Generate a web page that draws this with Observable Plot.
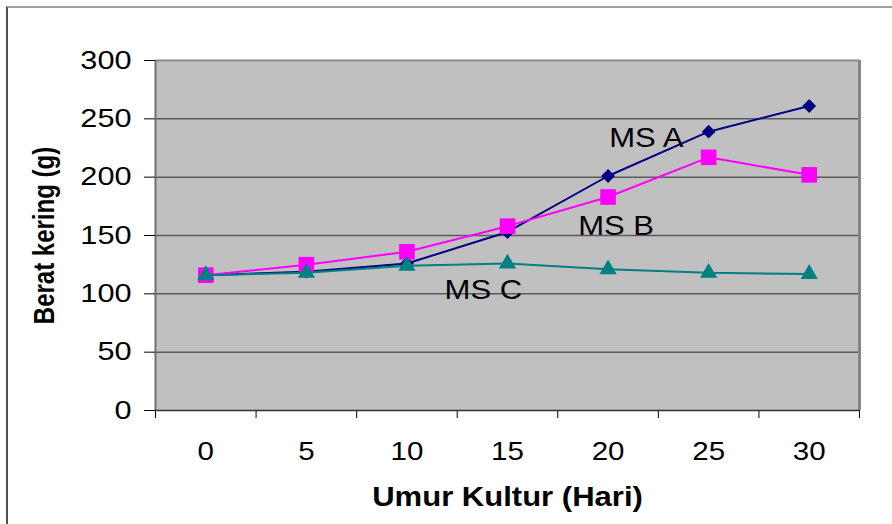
<!DOCTYPE html>
<html>
<head>
<meta charset="utf-8">
<script src="https://cdn.jsdelivr.net/npm/d3@7"></script>
<script src="https://cdn.jsdelivr.net/npm/@observablehq/plot@0.6"></script>
<style>
  html, body { margin: 0; padding: 0; background: #fff; }
  #wrap { position: relative; width: 892px; height: 524px; overflow: hidden; }
  #frame { position: absolute; left: 6px; top: 6px; width: 900px; height: 530px;
           border-top: 2px solid #a0a0a0; border-left: 2px solid #505050; box-sizing: border-box; }
  #chart { position: absolute; left: 0; top: 0; }
</style>
</head>
<body>
<div id="wrap"><div id="frame"></div><div id="chart"></div></div>
<script>
// Data
const days = [0, 5, 10, 15, 20, 25, 30];
const msA = [116, 119, 126, 153, 201, 239, 261];
const msB = [116, 125, 136, 158, 183, 217, 202];
const msC = [116, 118, 124, 126, 121, 118, 117];
const seriesNames = ["MS A", "MS B", "MS C"];
const labelDay = [21.9, 20.4, 13.8];
const labelValue = [233, 158, 103];
const yTicks = [0, 50, 100, 150, 200, 250, 300];
const yTitle = "Berat kering (g)";
const xTitle = "Umur Kultur (Hari)";

const rows = days.map((d, i) => ({day: d, A: msA[i], B: msB[i], C: msC[i]}));
const half = (days[1] - days[0]) / 2;
const xBounds = days.map(d => d - half).concat([days[days.length - 1] + half]);
const labels = seriesNames.map((n, i) => ({name: n, day: labelDay[i], v: labelValue[i]}));

const chart = Plot.plot({
  width: 892,
  height: 524,
  marginLeft: 155,
  marginRight: 33,
  marginTop: 60,
  marginBottom: 114,
  x: {domain: [xBounds[0], xBounds[xBounds.length - 1]]},
  y: {domain: [0, 300]},
  style: {fontFamily: "'Liberation Sans', Arial, sans-serif", background: "transparent", color: "#000"},
  marks: [
    Plot.frame({fill: "#c0c0c0", stroke: null}),
    Plot.gridY(yTicks.slice(1, -1), {stroke: "#5a5a5a", strokeOpacity: 1, strokeWidth: 1.5}),
    Plot.ruleY([300], {stroke: "#8a8a8a", strokeWidth: 2}),
    Plot.ruleX([xBounds[0]], {stroke: "#707070", strokeWidth: 2}),
    Plot.ruleX([xBounds[xBounds.length - 1]], {stroke: "#858585", strokeWidth: 3}),
    Plot.axisY({ticks: yTicks, tickSize: 11, tickPadding: 13, fontSize: 26, label: null, tickFormat: d => String(d)}),
    Plot.axisX({ticks: xBounds, tickSize: 8, tickFormat: () => "", label: null}),
    Plot.axisX({ticks: days, tickSize: 0, tickPadding: 32, fontSize: 25, label: null, tickFormat: d => String(d)}),
    Plot.ruleY([0], {stroke: "#303030", strokeWidth: 1.5}),
    Plot.line(rows, {x: "day", y: "A", stroke: "#000080", strokeWidth: 2}),
    Plot.dot(rows, {x: "day", y: "A", symbol: "diamond2", r: 6.2, fill: "#000080", stroke: null}),
    Plot.line(rows, {x: "day", y: "B", stroke: "#ff00ff", strokeWidth: 2}),
    Plot.dot(rows, {x: "day", y: "B", symbol: "square", r: 8.8, fill: "#ff00ff", stroke: null}),
    Plot.line(rows, {x: "day", y: "C", stroke: "#008080", strokeWidth: 2}),
    Plot.dot(rows, {x: "day", y: "C", symbol: "triangle", r: 6.4, fill: "#008080", stroke: null}),
    Plot.text(labels, {x: "day", y: "v", text: "name", fontSize: 27, fill: "#000", textAnchor: "middle", lineAnchor: "middle"}),
    Plot.text([xTitle], {frameAnchor: "bottom", dy: 87, fontSize: 27, fontWeight: "bold", fill: "#000", lineAnchor: "middle"}),
    Plot.text([yTitle], {frameAnchor: "left", dx: -111, rotate: -90, fontSize: 24, fontWeight: "bold", fill: "#000", textAnchor: "middle", lineAnchor: "middle"})
  ]
});

document.getElementById("chart").appendChild(chart);

// Horizontal stretch of the text around its anchor (the reference image is stretched horizontally)
try {
  const NS = "http://www.w3.org/2000/svg";
  Array.from(chart.querySelectorAll("text")).forEach(t => {
    if (t.textContent === "") return;
    const s = t.textContent === yTitle ? 1.2 : (/^\d+$/.test(t.textContent) ? 1.18 : 1.15);
    const b = t.getBBox();
    const anchor = getComputedStyle(t).textAnchor;
    const lx = anchor === "end" ? b.x + b.width : anchor === "middle" ? b.x + b.width / 2 : b.x;
    const ly = b.y + b.height / 2;
    const tl = t.transform.baseVal;
    let ax = lx, ay = ly;
    if (tl.numberOfItems) {
      const m = tl.consolidate().matrix;
      ax = m.a * lx + m.c * ly + m.e;
      ay = m.b * lx + m.d * ly + m.f;
    }
    const g = document.createElementNS(NS, "g");
    g.setAttribute("transform", `translate(${ax},${ay}) scale(${s},1) translate(${-ax},${-ay})`);
    t.parentNode.insertBefore(g, t);
    g.appendChild(t);
  });
} catch (e) { console.error(e); }
</script>
</body>
</html>
